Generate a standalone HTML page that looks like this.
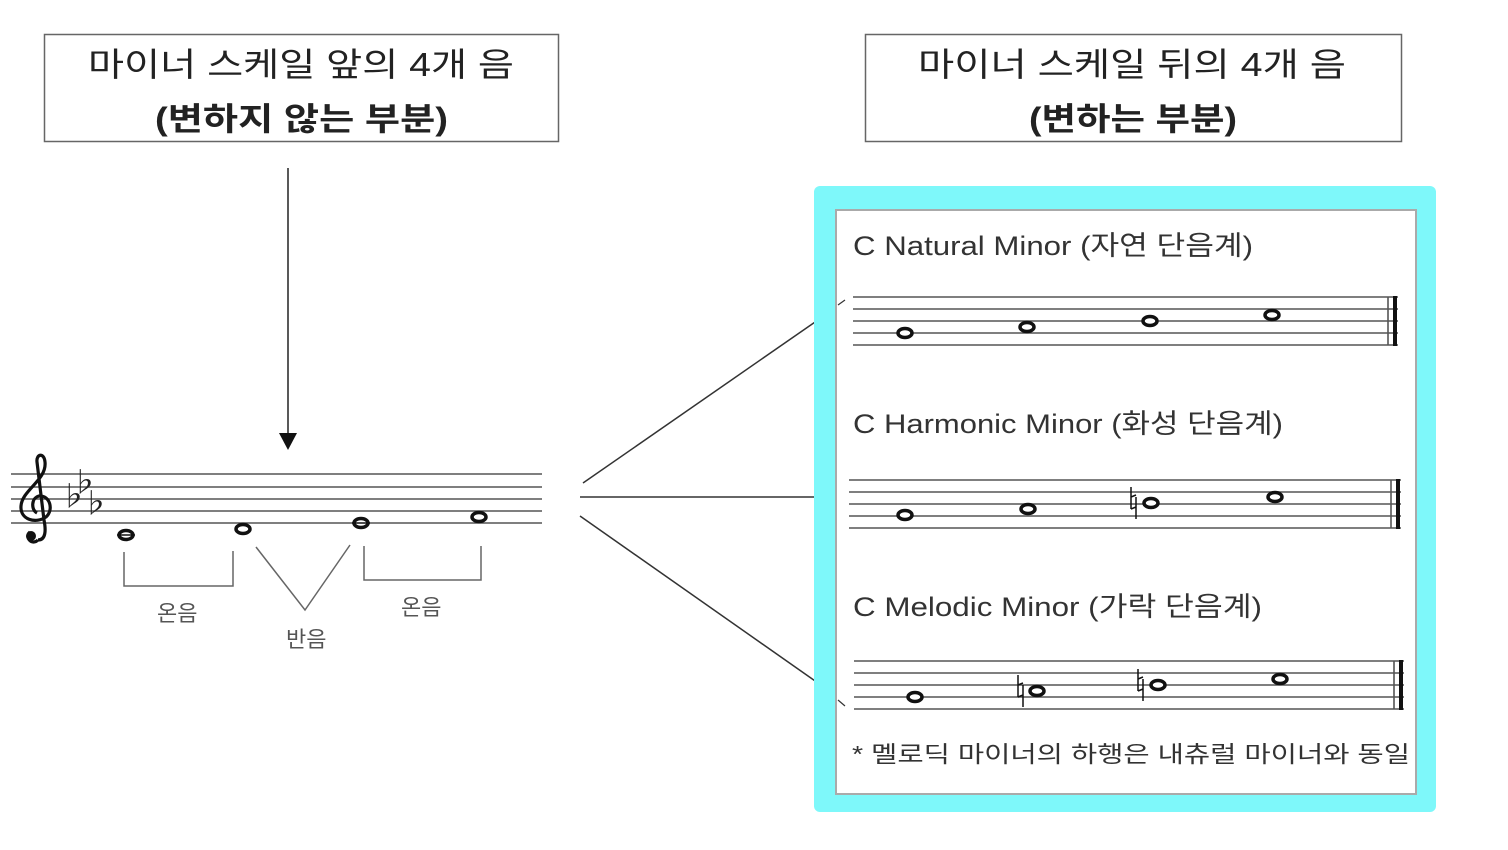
<!DOCTYPE html>
<html><head><meta charset="utf-8"><style>
html,body{margin:0;padding:0;background:#fff;}
svg{display:block;}
text{font-family:"Liberation Sans","Noto Sans CJK KR","NanumGothic",sans-serif;}
</style></head><body>
<svg width="1508" height="850" viewBox="0 0 1508 850" xmlns="http://www.w3.org/2000/svg">
<rect x="44.5" y="34.5" width="514" height="107" fill="#fff" stroke="#666" stroke-width="1.5"/>
<text x="88" y="76" font-size="33" fill="#222" textLength="426" lengthAdjust="spacingAndGlyphs">마이너 스케일 앞의 4개 음</text>
<text x="155" y="130" font-size="32" font-weight="bold" fill="#222" textLength="293" lengthAdjust="spacingAndGlyphs">(변하지 않는 부분)</text>
<rect x="865.5" y="34.5" width="536" height="107" fill="#fff" stroke="#666" stroke-width="1.5"/>
<text x="918" y="76" font-size="33" fill="#222" textLength="428" lengthAdjust="spacingAndGlyphs">마이너 스케일 뒤의 4개 음</text>
<text x="1029" y="130" font-size="32" font-weight="bold" fill="#222" textLength="208" lengthAdjust="spacingAndGlyphs">(변하는 부분)</text>
<line x1="288" y1="168" x2="288" y2="436" stroke="#222" stroke-width="1.5"/>
<polygon points="279,433 297,433 288,450" fill="#111"/>
<g stroke="#555" stroke-width="1.6">
<line x1="11" y1="474" x2="542" y2="474"/><line x1="11" y1="487" x2="542" y2="487"/><line x1="11" y1="499" x2="542" y2="499"/><line x1="11" y1="511" x2="542" y2="511"/><line x1="11" y1="523" x2="542" y2="523"/>
</g>
<path d="M38,540 C32,546 24,537 30,532 M38,540 C46,540 46,530 44,520 L37,462 C36,454 44,452 45,462 C47,480 22,490 21,506 C20,520 36,524 46,517 C54,510 50,495 39,496 C31,498 31,510 37,513" fill="none" stroke="#111" stroke-width="3.2"/>
<circle cx="31" cy="536" r="5" fill="#111"/>
<text x="59" y="506" font-size="28" fill="#222">♭</text>
<text x="70" y="492" font-size="28" fill="#222">♭</text>
<text x="81" y="513" font-size="28" fill="#222">♭</text>
<g fill="#fff" stroke="#111" stroke-width="3.5">
<ellipse cx="126" cy="535" rx="7" ry="4.5"/><ellipse cx="243" cy="529" rx="7" ry="4.5"/><ellipse cx="361" cy="523" rx="7" ry="4.5"/><ellipse cx="479" cy="517" rx="7" ry="4.5"/>
</g>
<line x1="117" y1="535" x2="135" y2="535" stroke="#111" stroke-width="1.5"/>
<line x1="352" y1="523" x2="370" y2="523" stroke="#111" stroke-width="1.5"/>
<g fill="none" stroke="#666" stroke-width="1.5">
<polyline points="124,552 124,586 233,586 233,551"/>
<polyline points="256,547 305,610 350,545"/>
<polyline points="364,546 364,580 481,580 481,546"/>
</g>
<text x="157" y="621" font-size="22" fill="#555">온음</text>
<text x="286" y="647" font-size="22" fill="#555">반음</text>
<text x="401" y="615" font-size="22" fill="#555">온음</text>
<g stroke="#333" stroke-width="1.5">
<line x1="583" y1="483" x2="818" y2="320"/>
<line x1="580" y1="497" x2="818" y2="497"/>
<line x1="580" y1="516" x2="818" y2="683"/>
</g>
<rect x="814" y="186" width="622" height="626" rx="6" fill="#7ef8fa"/>
<rect x="836" y="210" width="580" height="584" fill="#fff" stroke="#aaa" stroke-width="2"/>
<line x1="838" y1="305" x2="845" y2="300" stroke="#333" stroke-width="1.2"/>
<line x1="838" y1="700" x2="845" y2="706" stroke="#333" stroke-width="1.2"/>
<text x="853" y="255" font-size="27" fill="#333" textLength="400" lengthAdjust="spacingAndGlyphs">C Natural Minor (자연 단음계)</text>
<text x="853" y="433" font-size="27" fill="#333" textLength="430" lengthAdjust="spacingAndGlyphs">C Harmonic Minor (화성 단음계)</text>
<text x="853" y="616" font-size="27" fill="#333" textLength="409" lengthAdjust="spacingAndGlyphs">C Melodic Minor (가락 단음계)</text>
<text x="852" y="762" font-size="23" fill="#333" textLength="558" lengthAdjust="spacingAndGlyphs">* 멜로딕 마이너의 하행은 내츄럴 마이너와 동일</text>
<g stroke="#555" stroke-width="1.6">
<line x1="853" y1="297" x2="1398" y2="297"/><line x1="853" y1="309" x2="1398" y2="309"/><line x1="853" y1="321" x2="1398" y2="321"/><line x1="853" y1="333" x2="1398" y2="333"/><line x1="853" y1="345" x2="1398" y2="345"/>
<line x1="1388" y1="297" x2="1388" y2="345"/>
</g>
<rect x="1393" y="296" width="4" height="50" fill="#111"/>
<g stroke="#555" stroke-width="1.6">
<line x1="849" y1="480" x2="1401" y2="480"/><line x1="849" y1="492" x2="1401" y2="492"/><line x1="849" y1="504" x2="1401" y2="504"/><line x1="849" y1="516" x2="1401" y2="516"/><line x1="849" y1="528" x2="1401" y2="528"/>
<line x1="1391" y1="480" x2="1391" y2="528"/>
</g>
<rect x="1396" y="479" width="4" height="50" fill="#111"/>
<g stroke="#555" stroke-width="1.6">
<line x1="854" y1="661" x2="1404" y2="661"/><line x1="854" y1="673" x2="1404" y2="673"/><line x1="854" y1="685" x2="1404" y2="685"/><line x1="854" y1="697" x2="1404" y2="697"/><line x1="854" y1="709" x2="1404" y2="709"/>
<line x1="1394" y1="661" x2="1394" y2="709"/>
</g>
<rect x="1399" y="660" width="4" height="50" fill="#111"/>
<g fill="#fff" stroke="#111" stroke-width="3.5">
<ellipse cx="905" cy="333" rx="7" ry="4.5"/><ellipse cx="1027" cy="327" rx="7" ry="4.5"/><ellipse cx="1150" cy="321" rx="7" ry="4.5"/><ellipse cx="1272" cy="315" rx="7" ry="4.5"/>
<ellipse cx="905" cy="515" rx="7" ry="4.5"/><ellipse cx="1028" cy="509" rx="7" ry="4.5"/><ellipse cx="1151" cy="503" rx="7" ry="4.5"/><ellipse cx="1275" cy="497" rx="7" ry="4.5"/>
<ellipse cx="915" cy="697" rx="7" ry="4.5"/><ellipse cx="1037" cy="691" rx="7" ry="4.5"/><ellipse cx="1158" cy="685" rx="7" ry="4.5"/><ellipse cx="1280" cy="679" rx="7" ry="4.5"/>
</g>
<g stroke="#111" stroke-width="1.5" fill="none">
<path d="M1131,487 V509 M1136,497 V519 M1131,497 L1136,495 M1131,509 L1136,507"/>
<path d="M1018,675 V697 M1023,685 V707 M1018,685 L1023,683 M1018,697 L1023,695"/>
<path d="M1138,669 V691 M1143,679 V701 M1138,679 L1143,677 M1138,691 L1143,689"/>
</g>
</svg>
</body></html>
